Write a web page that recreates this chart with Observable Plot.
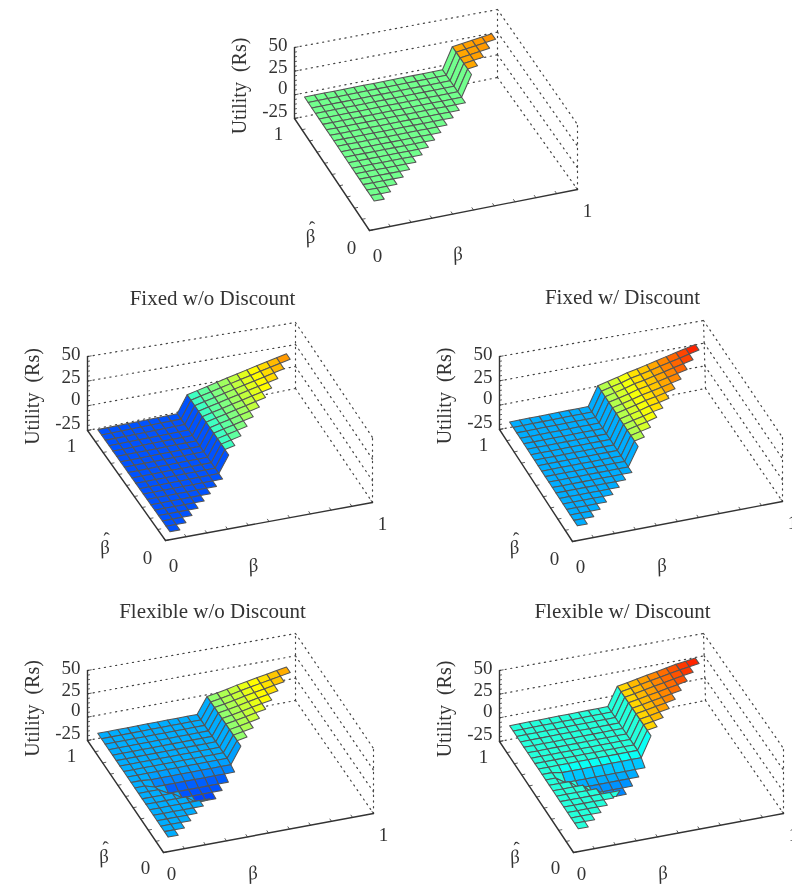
<!DOCTYPE html>
<html><head><meta charset="utf-8">
<script src="https://cdn.jsdelivr.net/npm/d3@7"></script>
<script src="https://cdn.jsdelivr.net/npm/@observablehq/plot@0.6"></script>
<style>html,body{margin:0;padding:0;background:#fff}svg{display:block;filter:blur(0.5px)}</style>
</head><body><div id="chart"></div>
<script>
const betaNodes=[.05,.1,.15,.2,.25,.3,.35,.4,.45,.5,.55,.6,.65,.7,.75,.8,.85,.9,.95,1];
const hatNodes=betaNodes;
const zTicks=[-25,0,25,50];
const titles=["","Fixed w/o Discount","Fixed w/ Discount","Flexible w/o Discount","Flexible w/ Discount"];
const utilityTop=[-1,-1,-1,-1,-1,-1,-1,-1,-1,-1,-1,-1,-1,-1,-1,22,23.5,25,26.5,28];
const shadeTop=[-1,-1,-1,-1,-1,-1,-1,-1,-1,-1,-1,-1,-1,-1,-1,16.5,17,17.5,18,18.5];
const utilityFixedNo=[-23,-23,-23,-23,-23,-23,-23,-23,-23,-5,-2.5,0,2.5,5,7.5,10,12.5,15,17.5,20];
const utilityFixedDisc=[-16,-16,-16,-16,-16,-16,-16,-16,-16,4,6.5,9,12,14,16.5,19,21.5,24,26.5,29];
const utilityFlexNo=[-16,-16,-16,-16,-16,-16,-16,-16,-16,-16,-16,1.5,3.5,5.5,8,10,12,14,16,18];
const utilityFlexDisc=[-7,-7,-7,-7,-7,-7,-7,-7,-7,-7,-7,13,15,17,19,21,23,25,26.5,28];
// drop of the plateau per beta-hat row in the two flexible panels, and the first beta index it reaches
const dipNone=[0,0,0,0,0,0,0,0,0,0,0,0,0,0,0,0,0,0,0,0];
const dipFlexNo=[0,0,0,0,0,0,-8,-7,-6,-3,-1,0,0,0,0,0,0,0,0,0];
const dipFlexDisc=[0,0,0,0,0,0,-12,-11,-9,-7,-2,0,0,0,0,0,0,0,0,0];
const dipFrom=[0,0,0,0,0,0,5,4,3,2,2,0,0,0,0,0,0,0,0,0];
const series=[utilityTop,utilityFixedNo,utilityFixedDisc,utilityFlexNo,utilityFlexDisc];
const shades=[shadeTop,utilityFixedNo,utilityFixedDisc,utilityFlexNo,utilityFlexDisc];
const dips=[dipNone,dipNone,dipNone,dipFlexNo,dipFlexDisc];
const betaStretch=[.97,.955,.955,.955,.955];
// box corners on the page for each panel: O, X, Y, B at z=-25 then z=50
const boxes=[
 {O:[369,230],X:[577,189],Y:[294,118],B:[497,77],Ot:[369,160],Xt:[577,124],Yt:[294,47],Bt:[497,9]},
 {O:[165,540],X:[372,502],Y:[87,430],B:[295,388],Ot:[165,468],Xt:[372,437],Yt:[87,356],Bt:[295,322]},
 {O:[572,541],X:[782,501],Y:[499,429],B:[705,388],Ot:[572,469],Xt:[782,437],Yt:[499,356],Bt:[703,320]},
 {O:[163,852],X:[373,813],Y:[87,740],B:[295,700],Ot:[163,782],Xt:[373,748],Yt:[87,670],Bt:[295,633]},
 {O:[573,852],X:[783,813],Y:[499,741],B:[705,700],Ot:[573,782],Xt:[783,748],Yt:[499,670],Bt:[703,633]}
];
function project(p,b,h,z){
 const B=boxes[p],t=(z+25)/75;
 const mix=(a,c,w)=>[a[0]+(c[0]-a[0])*w,a[1]+(c[1]-a[1])*w];
 const bot=mix(mix(B.O,B.X,b),mix(B.Y,B.B,b),h);
 const top=mix(mix(B.Ot,B.Xt,b),mix(B.Yt,B.Bt,b),h);
 return mix(bot,top,t);
}
const hatScale=.975;
const cells=[],dotted=[],axes=[],ticks=[],labels=[];
boxes.forEach((_,p)=>{
 const col=series[p],shade=shades[p],dip=dips[p];
 const betaAt=b=>.04+(b-.05)*betaStretch[p];
 const drop=(i,j)=>(i>=dipFrom[j]&&i<=10?dip[j]:0);
 const Z=(i,j)=>col[i]+drop(i,j);
 const list=[];
 betaNodes.forEach((bi,i)=>{if(i>=19)return;hatNodes.forEach((hj,j)=>{
  if(j>=19||i>j)return;
  list.push({i,j,order:i+j});
 });});
 list.sort((a,b)=>b.order-a.order);
 list.forEach(({i,j})=>{
  const id=`${p}-${i}-${j}`,v=shade[i]+drop(i,j);
  [[i,j],[i+1,j],[i+1,j+1],[i,j+1],[i,j]].forEach(([a,c])=>{
   const [x,y]=project(p,betaAt(betaNodes[a]),hatNodes[c]*hatScale,Z(a,c));
   cells.push({id,v,x,y});
  });
 });
 const seg=(arr,id,A,C)=>{const a=project(p,...A),c=project(p,...C);arr.push({id,x:a[0],y:a[1]},{id,x:c[0],y:c[1]});};
 zTicks.forEach(z=>{
  seg(dotted,`${p}yb${z}`,[0,1,z],[1,1,z]);
  seg(dotted,`${p}bx${z}`,[1,1,z],[1,0,z]);
 });
 seg(dotted,`${p}vb`,[1,1,-25],[1,1,50]);
 seg(dotted,`${p}vx`,[1,0,-25],[1,0,50]);
 seg(axes,`${p}a1`,[0,0,-25],[1,0,-25]);
 seg(axes,`${p}a2`,[0,0,-25],[0,1,-25]);
 seg(axes,`${p}a3`,[0,1,-25],[0,1,50]);
 for(let k=0;k<=15;k++){const z=-25+5*k;seg(ticks,`${p}tz${k}`,[0,1,z],[k%5==0?.018:.01,1,z]);}
 for(let k=0;k<=10;k++){seg(ticks,`${p}tx${k}`,[k/10,0,-25],[k/10,.02,-25]);seg(ticks,`${p}ty${k}`,[0,k/10,-25],[.015,k/10,-25]);}
 const L=(text,A,dx,dy,o={})=>{const [x,y]=project(p,...A);labels.push({text,x,y,dx,dy,size:19,rot:0,anchor:"middle",style:"normal",...o});};
 const zLift={"-25":-8,"0":-7,"25":-4,"50":-3};
 const low=p>=3?-4:0;
 zTicks.forEach(z=>L(String(z),[0,1,z],-7,zLift[z],{anchor:"end"}));
 L("1",[0,1,-25],-16,15);
 L("0",[0,0,-25],-18,17+low/2);
 L("0",[0,0,-25],8,25+low);
 L("1",[1,0,-25],10,21);
 L("β",[.5,0,-25],-16,44+low,{style:"italic",rot:-12});
 L("β",[0,.5,-25],-22,62+low/2,{style:"italic",rot:-12});
 L("ˆ",[0,.5,-25],-19,54+low/2,{rot:-12});
 L("Utility  (Rs)",[0,1,12.5],-55,3,{rot:-90,size:20});
 if(titles[p])L(titles[p],[.5,1,50],21,-41,{size:21});
});
const jet=t=>{const c=x=>Math.round(255*Math.max(0,Math.min(1,1.5-Math.abs(4*t-x))));return `rgb(${c(3)},${c(2)},${c(1)})`;};
const textMarks=labels.map(d=>Plot.text([d],{x:"x",y:"y",text:"text",dx:d.dx,dy:d.dy,fontFamily:"Liberation Serif",fontStyle:d.style,fontSize:d.size,rotate:d.rot,textAnchor:d.anchor,fill:"#333"}));
const chart=Plot.plot({
 width:792,height:886,margin:0,
 x:{domain:[0,792],range:[0,792],axis:null},
 y:{domain:[0,886],range:[0,886],axis:null},
 color:{type:"linear",domain:[-39,39],interpolate:jet},
 style:{background:"#fff"},
 marks:[
  Plot.line(dotted,{x:"x",y:"y",z:"id",stroke:"#444",strokeWidth:1.2,strokeDasharray:"1.2 4.5"}),
  Plot.line(axes,{x:"x",y:"y",z:"id",stroke:"#333",strokeWidth:1.4}),
  Plot.line(ticks,{x:"x",y:"y",z:"id",stroke:"#333",strokeWidth:.8}),
  Plot.line(cells,{x:"x",y:"y",z:"id",fill:"v",stroke:"#555",strokeWidth:1.05,curve:"linear"}),
  ...textMarks
 ]
});
document.getElementById("chart").append(chart);
</script></body></html>
